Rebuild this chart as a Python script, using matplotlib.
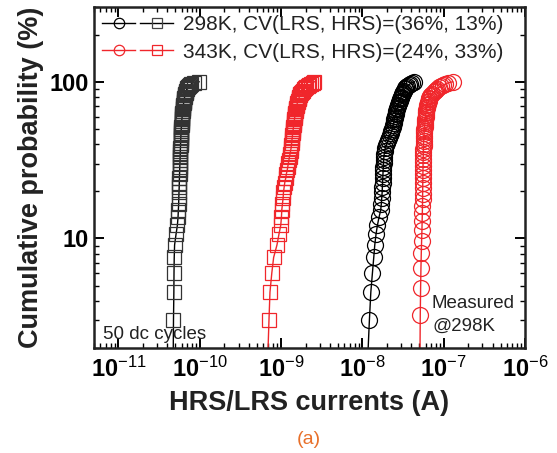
import numpy as np
import matplotlib
matplotlib.use("Agg")
import matplotlib.pyplot as plt
from matplotlib.lines import Line2D
from matplotlib.legend_handler import HandlerTuple
from matplotlib.ticker import FixedLocator, NullFormatter, LogLocator

plt.rcParams['font.family'] = ['Liberation Sans', 'DejaVu Sans']
plt.rcParams['mathtext.fontset'] = 'custom'
plt.rcParams['mathtext.rm'] = 'Liberation Sans'
plt.rcParams['mathtext.bf'] = 'Liberation Sans:bold'
plt.rcParams['mathtext.it'] = 'Liberation Sans:italic'

# ---------------- data (currents in A, sorted) ----------------
hrs_298 = [4.7e-11, 4.75e-11, 4.8e-11, 4.82e-11, 4.85e-11, 4.9e-11, 5.1e-11, 5.3e-11, 5.4e-11, 5.45e-11,
           5.5e-11, 5.52e-11, 5.55e-11, 5.58e-11, 5.6e-11, 5.62e-11, 5.64e-11, 5.66e-11, 5.68e-11, 5.7e-11,
           5.72e-11, 5.73e-11, 5.75e-11, 5.76e-11, 5.78e-11, 5.8e-11, 5.81e-11, 5.83e-11, 5.84e-11, 5.86e-11,
           5.88e-11, 5.9e-11, 5.92e-11, 5.94e-11, 5.96e-11, 5.98e-11, 6.0e-11, 6.02e-11, 6.05e-11, 6.08e-11,
           6.1e-11, 6.13e-11, 6.16e-11, 6.19e-11, 6.22e-11, 6.25e-11, 6.28e-11, 6.32e-11, 6.36e-11, 6.4e-11,
           6.44e-11, 6.48e-11, 6.52e-11, 6.57e-11, 6.62e-11, 6.68e-11, 6.75e-11, 6.82e-11, 6.9e-11, 7.0e-11,
           7.15e-11, 7.35e-11, 7.6e-11, 7.9e-11, 8.4e-11, 9.8e-11]

hrs_343 = [6.8e-10, 7.1e-10, 7.3e-10, 7.7e-10, 8.1e-10, 8.9e-10, 9.4e-10, 9.9e-10, 1.01e-9, 1.02e-9,
           1.04e-9, 1.06e-9, 1.07e-9, 1.09e-9, 1.11e-9, 1.14e-9, 1.16e-9, 1.19e-9, 1.21e-9, 1.23e-9,
           1.25e-9, 1.27e-9, 1.29e-9, 1.31e-9, 1.33e-9, 1.34e-9, 1.35e-9, 1.36e-9, 1.37e-9, 1.38e-9,
           1.39e-9, 1.4e-9, 1.41e-9, 1.42e-9, 1.43e-9, 1.44e-9, 1.45e-9, 1.46e-9, 1.47e-9, 1.48e-9,
           1.49e-9, 1.5e-9, 1.51e-9, 1.52e-9, 1.53e-9, 1.55e-9, 1.56e-9, 1.58e-9, 1.6e-9, 1.62e-9,
           1.64e-9, 1.66e-9, 1.68e-9, 1.7e-9, 1.73e-9, 1.76e-9, 1.8e-9, 1.85e-9, 1.9e-9, 1.96e-9,
           2.03e-9, 2.12e-9, 2.22e-9, 2.33e-9, 2.45e-9, 2.57e-9]

lrs_298 = [1.15e-8, 1.22e-8, 1.27e-8, 1.33e-8, 1.38e-8, 1.42e-8, 1.47e-8, 1.53e-8, 1.6e-8, 1.68e-8,
           1.71e-8, 1.73e-8, 1.75e-8, 1.76e-8, 1.77e-8, 1.78e-8, 1.79e-8, 1.8e-8, 1.81e-8, 1.82e-8,
           1.83e-8, 1.84e-8, 1.86e-8, 1.88e-8, 1.92e-8, 1.97e-8, 2.02e-8, 2.06e-8, 2.12e-8, 2.18e-8,
           2.23e-8, 2.28e-8, 2.33e-8, 2.36e-8, 2.39e-8, 2.42e-8, 2.45e-8, 2.48e-8, 2.51e-8, 2.54e-8,
           2.57e-8, 2.59e-8, 2.62e-8, 2.65e-8, 2.69e-8, 2.73e-8, 2.77e-8, 2.81e-8, 2.85e-8, 2.89e-8,
           2.93e-8, 2.97e-8, 3.01e-8, 3.05e-8, 3.1e-8, 3.15e-8, 3.2e-8, 3.25e-8, 3.3e-8, 3.38e-8,
           3.47e-8, 3.57e-8, 3.7e-8, 3.85e-8, 4.05e-8, 4.37e-8]

lrs_343 = [5.1e-8, 5.15e-8, 5.2e-8, 5.25e-8, 5.3e-8, 5.35e-8, 5.4e-8, 5.43e-8, 5.46e-8, 5.48e-8,
           5.5e-8, 5.51e-8, 5.52e-8, 5.53e-8, 5.54e-8, 5.55e-8, 5.56e-8, 5.57e-8, 5.58e-8, 5.6e-8,
           5.61e-8, 5.62e-8, 5.63e-8, 5.65e-8, 5.66e-8, 5.68e-8, 5.7e-8, 5.72e-8, 5.74e-8, 5.76e-8,
           5.8e-8, 5.83e-8, 5.86e-8, 5.89e-8, 5.92e-8, 5.95e-8, 5.98e-8, 6.01e-8, 6.04e-8, 6.07e-8,
           6.1e-8, 6.15e-8, 6.2e-8, 6.27e-8, 6.35e-8, 6.43e-8, 6.52e-8, 6.6e-8, 6.68e-8, 6.76e-8,
           6.95e-8, 7.2e-8, 7.5e-8, 7.8e-8, 8.05e-8, 8.35e-8, 8.7e-8, 9.3e-8, 9.9e-8, 1.05e-7,
           1.13e-7, 1.29e-7]

legend_labels = ["298K, CV(LRS, HRS)=(36%, 13%)", "343K, CV(LRS, HRS)=(24%, 33%)"]
x_tick_exps = [-11, -10, -9, -8, -7, -6]
y_ticks = [10, 100]


def cum_prob(values):
    n = len(values)
    return np.arange(1, n + 1) / n * 100.0


RED = '#F0262B'

fig = plt.figure(figsize=(5.57, 4.53), dpi=100)
ax = fig.add_axes([94 / 557, 105 / 453, 431 / 557, 341 / 453])

ms_c, ms_s = 11.5, 10.0
ax.plot(hrs_298, cum_prob(hrs_298), '-', color='black', lw=1.0, marker='s', ms=ms_s,
        mfc='none', mec='#333333', mew=0.9)
ax.plot(hrs_343, cum_prob(hrs_343), '-', color=RED, lw=1.0, marker='s', ms=ms_s,
        mfc='none', mec=RED, mew=0.9)
ax.plot(lrs_298, cum_prob(lrs_298), '-', color='black', lw=1.0, marker='o', ms=ms_c,
        mfc='none', mec='black', mew=0.9)
ax.plot(lrs_343, cum_prob(lrs_343), '-', color=RED, lw=1.0, marker='o', ms=ms_c,
        mfc='none', mec=RED, mew=0.9)

ax.set_xscale('log')
ax.set_yscale('log')
ax.set_xlim(5e-12, 1e-6)
ax.set_ylim(2, 300)

ax.xaxis.set_major_locator(FixedLocator([10.0 ** e for e in x_tick_exps]))
ax.set_xticklabels([r'$\mathbf{10}^{%d}$' % e for e in x_tick_exps])
ax.xaxis.set_minor_locator(LogLocator(base=10, subs=np.arange(2, 10), numticks=20))
ax.xaxis.set_minor_formatter(NullFormatter())
ax.yaxis.set_major_locator(FixedLocator(y_ticks))
ax.set_yticklabels([str(v) for v in y_ticks])
ax.yaxis.set_minor_locator(LogLocator(base=10, subs=np.arange(2, 10), numticks=20))
ax.yaxis.set_minor_formatter(NullFormatter())

ax.tick_params(which='both', direction='in', top=True, right=True)
ax.tick_params(which='major', length=7, width=1.4, labelsize=17)
ax.tick_params(axis='x', which='major', pad=6)
ax.tick_params(axis='y', which='major', pad=4)
ax.tick_params(which='minor', length=3.5, width=1.0)
for lab in ax.get_yticklabels():
    lab.set_fontweight('bold')
for sp in ax.spines.values():
    sp.set_linewidth(1.8)
    sp.set_color('#222222')

ax.set_xlabel('HRS/LRS currents (A)', fontsize=19.5, fontweight='bold', labelpad=6, color='#222222')
ax.set_ylabel('Cumulative probability (%)', fontsize=19.5, fontweight='bold', labelpad=4, color='#222222')

h1 = (Line2D([], [], color='black', lw=1.0, marker='o', ms=7.5, mfc='none', mew=0.9),
      Line2D([], [], color='black', lw=1.0, marker='s', ms=7, mfc='none', mec='#444444', mew=0.9))
h2 = (Line2D([], [], color=RED, lw=1.0, marker='o', ms=7.5, mfc='none', mew=0.9),
      Line2D([], [], color=RED, lw=1.0, marker='s', ms=7, mfc='none', mew=0.9))
leg = ax.legend([h1, h2], legend_labels, handler_map={tuple: HandlerTuple(ndivide=None, pad=0.25)},
                loc='upper left', bbox_to_anchor=(0.0, 1.0), frameon=False, fontsize=15,
                handlelength=3.4, handletextpad=0.45, labelspacing=0.4,
                borderaxespad=0.2, borderpad=0.2)
for t in leg.get_texts():
    t.set_color('#222222')

ax.text(0.021, 0.026, '50 dc cycles', transform=ax.transAxes, fontsize=13.5,
        va='baseline', ha='left', color='#222222')
ax.text(0.784, 0.117, 'Measured', transform=ax.transAxes, fontsize=13.5,
        va='baseline', ha='left', color='#222222')
ax.text(0.786, 0.050, '@298K', transform=ax.transAxes, fontsize=13.5,
        va='baseline', ha='left', color='#222222')

fig.text(309 / 557, 1 - 440 / 453, '(a)', color='#E8702A', ha='center', va='center', fontsize=14)

fig.savefig('out.png', dpi=100)
